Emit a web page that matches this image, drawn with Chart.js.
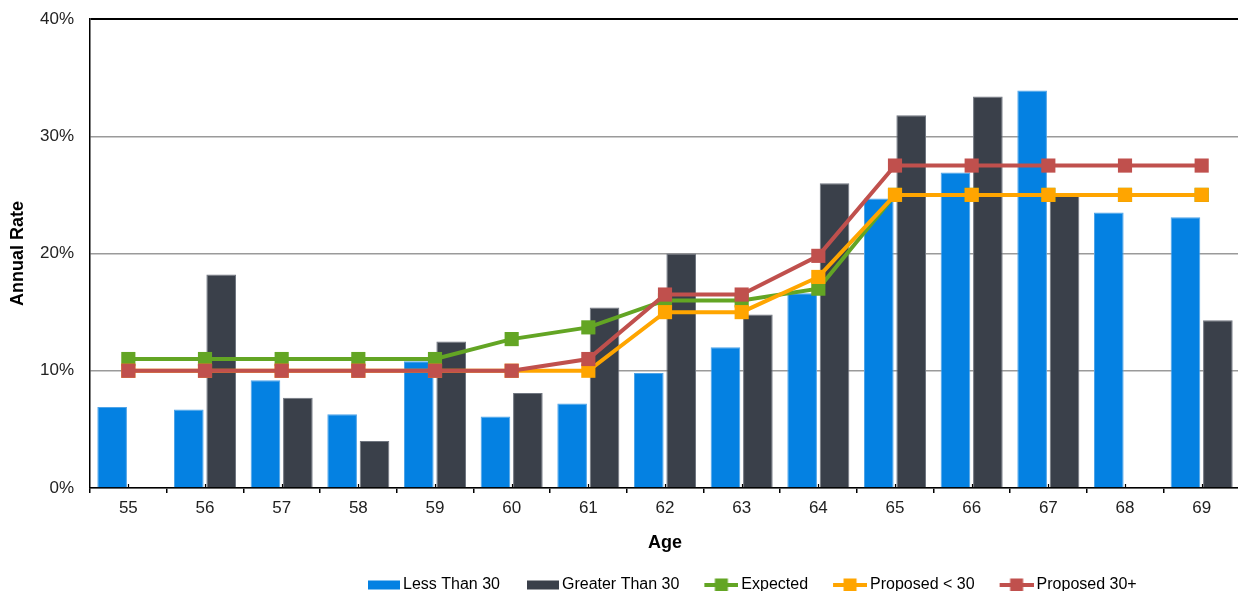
<!DOCTYPE html>
<html>
<head>
<meta charset="utf-8">
<script src="https://cdn.jsdelivr.net/npm/chart.js@4"></script>
<style>
  html, body { margin: 0; padding: 0; background: #fff; overflow: hidden; }
  #wrap { width: 1238px; height: 591px; overflow: hidden; position: relative; }
  canvas { display: block; }
</style>
</head>
<body>
<div id="wrap"><canvas id="c" width="1250" height="591"></canvas></div>
<script>
// Ages on the horizontal axis
const ages = ['55','56','57','58','59','60','61','62','63','64','65','66','67','68','69'];

// Observed annual rates (%) by service group
const lessThan30    = [6.9, 6.7, 9.2, 6.3, 10.8, 6.1, 7.2, 9.8, 12.0, 16.6, 24.7, 26.9, 33.9, 23.5, 23.1];
const greaterThan30 = [null, 18.2, 7.7, 4.0, 12.5, 8.1, 15.4, 20.0, 14.8, 26.0, 31.8, 33.4, 24.9, null, 14.3];

// Assumption curves (%)
const expected        = [11, 11, 11, 11, 11, 12.7, 13.7, 16, 16, 17, 25, 25, 25, 25, 25];
const proposedUnder30 = [10, 10, 10, 10, 10, 10, 10, 15, 15, 18, 25, 25, 25, 25, 25];
const proposed30Plus  = [10, 10, 10, 10, 10, 10, 11, 16.5, 16.5, 19.8, 27.5, 27.5, 27.5, 27.5, 27.5];

// Y axis ticks
const yTicks = [0, 10, 20, 30, 40];

const FONT = "'Liberation Sans', Arial, Helvetica, sans-serif";
const BLUE = '#0481E2', GREY = '#3A404A', GREEN = '#63A524', ORANGE = '#FFA500', RED = '#C0504D';

// Legend swatches: drawn on small canvases, mark sits at the right of the image
function barSwatch(color) {
  const c = document.createElement('canvas');
  c.width = 58; c.height = 16;
  const g = c.getContext('2d');
  g.fillStyle = color;
  g.fillRect(26, 3.5, 32, 9);
  return c;
}
function lineSwatch(color) {
  const c = document.createElement('canvas');
  c.width = 58; c.height = 16;
  const g = c.getContext('2d');
  g.fillStyle = color;
  g.fillRect(24, 6, 34, 4);
  g.fillRect(34.5, 1.5, 13, 13);
  return c;
}

// Small marks at category centres along the base line
const centreTicks = {
  id: 'centreTicks',
  afterDatasetsDraw(chart) {
    const xs = chart.scales.x, ctx = chart.ctx, b = chart.chartArea.bottom;
    ctx.save();
    ctx.strokeStyle = '#000';
    ctx.lineWidth = 1.2;
    ctx.beginPath();
    ages.forEach((_, i) => {
      const px = Math.round(xs.getPixelForValue(i)) + 0.5;
      ctx.moveTo(px, b);
      ctx.lineTo(px, b - 4);
    });
    ctx.stroke();
    ctx.restore();
  }
};

// Place the legend row beneath the axis title
const legendPlacement = {
  id: 'legendPlacement',
  afterLayout(chart) {
    const lg = chart.legend;
    if (!lg) return;
    lg.left = 341;
    lg.top = 571;
    lg.bottom = lg.top + lg.height;
  }
};

const swatches = [barSwatch(BLUE), barSwatch(GREY), lineSwatch(GREEN), lineSwatch(ORANGE), lineSwatch(RED)];

new Chart(document.getElementById('c'), {
  type: 'bar',
  data: {
    labels: ages,
    datasets: [
      { label: 'Less Than 30', data: lessThan30, backgroundColor: BLUE, borderColor: '#4FA4E8', borderWidth: 1, order: 3,
        categoryPercentage: 0.845, barPercentage: 0.915 },
      { label: 'Greater Than 30', data: greaterThan30, backgroundColor: GREY, borderColor: '#707680', borderWidth: 1, order: 4,
        categoryPercentage: 0.845, barPercentage: 0.915 },
      { type: 'line', label: 'Expected', data: expected, borderColor: GREEN, backgroundColor: GREEN,
        borderWidth: 4, pointStyle: 'rect', pointRadius: 10, pointBorderWidth: 0, tension: 0, order: 2 },
      { type: 'line', label: 'Proposed < 30', data: proposedUnder30, borderColor: ORANGE, backgroundColor: ORANGE,
        borderWidth: 4, pointStyle: 'rect', pointRadius: 10, pointBorderWidth: 0, tension: 0, order: 1 },
      { type: 'line', label: 'Proposed 30+', data: proposed30Plus, borderColor: RED, backgroundColor: RED,
        borderWidth: 4, pointStyle: 'rect', pointRadius: 10, pointBorderWidth: 0, tension: 0, order: 0 }
    ]
  },
  options: {
    responsive: false,
    animation: false,
    events: [],
    layout: { padding: { top: 19, right: 6, bottom: 0, left: 0 } },
    plugins: {
      tooltip: { enabled: false },
      legend: {
        position: 'bottom',
        align: 'start',
        labels: {
          usePointStyle: true,
          pointStyleWidth: 48,
          boxHeight: 12,
          padding: 6,
          color: '#111',
          font: { family: FONT, size: 16 },
          generateLabels(chart) {
            return chart.data.datasets.map((ds, i) => ({
              text: ds.label,
              pointStyle: swatches[i],
              fillStyle: ds.backgroundColor,
              strokeStyle: ds.backgroundColor,
              lineWidth: 0,
              hidden: false,
              datasetIndex: i
            }));
          }
        }
      }
    },
    scales: {
      x: {
        offset: true,
        afterFit(scale) {
          scale.paddingLeft = 0;
          scale.paddingRight = 0;
        },
        grid: { display: true, offset: true, drawOnChartArea: false, drawTicks: true, tickLength: 5, color: '#000', lineWidth: 1.5 },
        border: { display: true, color: '#000', width: 1.5 },
        ticks: { color: '#222', padding: 5, font: { family: FONT, size: 17 } },
        title: { display: true, text: 'Age', color: '#000', font: { family: FONT, size: 18, weight: 'bold' },
                 padding: { top: 9, bottom: 5 } }
      },
      y: {
        min: 0, max: 40,
        afterBuildTicks(scale) { scale.ticks = yTicks.map(v => ({ value: v })); },
        afterFit(scale) {
          scale.width = 90;
          scale.paddingTop = 0;
          scale.paddingBottom = 0;
        },
        grid: {
          drawTicks: false,
          color: (c) => (c.tick && c.tick.value === 40) ? '#000' : '#9A9A9A',
          lineWidth: (c) => (c.tick && c.tick.value === 40) ? 2 : 1.5
        },
        border: { display: true, color: '#000', width: 1.5 },
        ticks: { color: '#222', padding: 16, font: { family: FONT, size: 17 }, callback: (v) => v + '%' },
        title: { display: true, text: 'Annual Rate', color: '#000', font: { family: FONT, size: 18, weight: 'bold' },
                 padding: { top: 7, bottom: 11 } }
      }
    }
  },
  plugins: [centreTicks, legendPlacement]
});
</script>
</body>
</html>
